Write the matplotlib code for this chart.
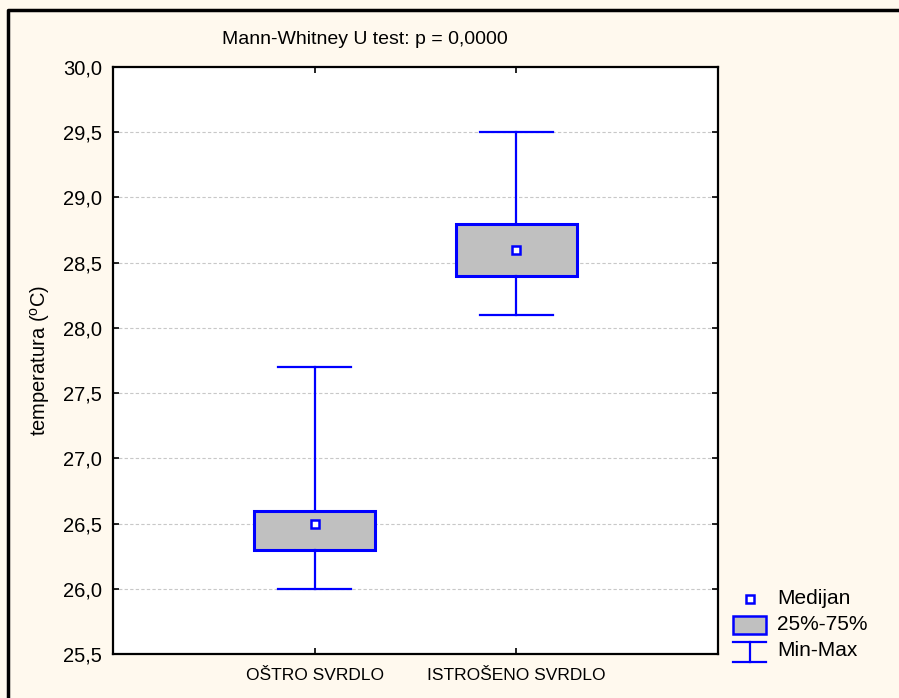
import matplotlib
matplotlib.use('Agg')
import matplotlib.pyplot as plt
from matplotlib.lines import Line2D
from matplotlib.patches import Rectangle

plt.rcParams['font.family'] = ['Liberation Sans', 'DejaVu Sans']
plt.rcParams['mathtext.fontset'] = 'custom'
plt.rcParams['mathtext.rm'] = 'Liberation Sans'
plt.rcParams['mathtext.it'] = 'Liberation Sans'

# temperature summary per drill state
groups = ['OŠTRO SVRDLO', 'ISTROŠENO SVRDLO']
t_min = [26.0, 28.1]
t_q1 = [26.3, 28.4]
t_med = [26.5, 28.6]
t_q3 = [26.6, 28.8]
t_max = [27.7, 29.5]
y_ticks = [25.5, 26.0, 26.5, 27.0, 27.5, 28.0, 28.5, 29.0, 29.5, 30.0]

blue = '#0000FF'
bg = '#FFF9EE'

fig = plt.figure(figsize=(8.99, 6.98), dpi=100, facecolor=bg)
ax = fig.add_axes([113 / 899, 1 - 654 / 698, 605 / 899, 587 / 698])
ax.set_facecolor('white')

stats = []
for i in range(len(groups)):
    stats.append({'whislo': t_min[i], 'q1': t_q1[i], 'med': t_med[i],
                  'q3': t_q3[i], 'whishi': t_max[i], 'fliers': []})
pos = [1, 2]
ax.bxp(stats, positions=pos, widths=0.6, patch_artist=True, showfliers=False,
       boxprops=dict(facecolor='#C0C0C0', edgecolor=blue, linewidth=2.2),
       whiskerprops=dict(color=blue, linewidth=1.6),
       capprops=dict(color=blue, linewidth=1.6),
       capwidths=0.36,
       medianprops=dict(linestyle='none'), zorder=3)
ax.plot(pos, t_med, linestyle='none', marker='s', markersize=6,
        markerfacecolor='white', markeredgecolor=blue, markeredgewidth=1.8, zorder=4)

ax.set_xlim(0, 3)
ax.set_ylim(25.5, 30.0)
ax.set_yticks(y_ticks)
ax.set_yticklabels([('%.1f' % v).replace('.', ',') for v in y_ticks], fontsize=14.5)
ax.set_xticks(pos)
ax.set_xticklabels(groups, fontsize=12.5)
ax.tick_params(axis='both', direction='in', length=4, width=1.2, pad=8,
               top=True, right=True)
ax.tick_params(axis='x', pad=10)
for v in y_ticks[1:-1]:
    ax.axhline(v, color='#C8C8C8', linestyle=(0, (3, 2)), linewidth=0.8, zorder=1)
for s in ax.spines.values():
    s.set_linewidth(1.6)
ax.set_ylabel(r'temperatura ($^{o}$C)', fontsize=14.5, labelpad=8)

fig.text(365 / 899, 1 - 40 / 698, 'Mann-Whitney U test: p = 0,0000',
         ha='center', va='center', fontsize=14)

# outer frame
fig.add_artist(Line2D([8 / 899, 8 / 899, 1.0], [0, 1 - 10 / 698, 1 - 10 / 698],
                      transform=fig.transFigure, color='black', linewidth=2.5))

# legend
lg = fig.add_axes([725 / 899, 1 - 670 / 698, 170 / 899, 90 / 698])
lg.set_xlim(725, 895)
lg.set_ylim(670, 580)
lg.axis('off')
lg.plot([750], [599], linestyle='none', marker='s', markersize=6,
        markerfacecolor='white', markeredgecolor=blue, markeredgewidth=1.8)
lg.add_patch(Rectangle((733, 616), 33, 18, facecolor='#C0C0C0', edgecolor=blue, linewidth=1.8))
lg.plot([733, 766], [642, 642], color=blue, linewidth=1.6)
lg.plot([733, 766], [662, 662], color=blue, linewidth=1.6)
lg.plot([750, 750], [642, 662], color=blue, linewidth=1.6)
for yy, txt in [(599, 'Medijan'), (625, '25%-75%'), (651, 'Min-Max')]:
    lg.text(777, yy, txt, fontsize=15, va='center', ha='left')

fig.savefig('out.png', dpi=100, facecolor=bg)
